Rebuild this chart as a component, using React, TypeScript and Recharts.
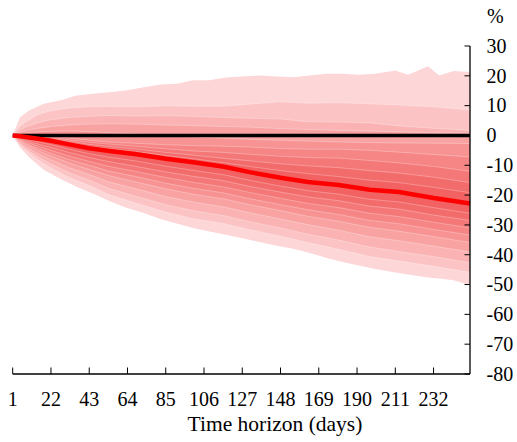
import { ComposedChart, Area, Line, XAxis, YAxis, ReferenceLine } from 'recharts';

const FONT = '"Liberation Serif", "Times New Roman", serif';

// sampled days along the horizon
const days = [1, 4, 8, 15, 22, 32, 43, 54, 68, 85, 100, 117, 131, 148, 163, 180, 197, 213, 232, 252];

// central path (%)
const median = [0, -0.2, -0.5, -1.1, -1.8, -3.0, -4.3, -5.2, -6.2, -7.8, -9.0, -10.5, -12.3, -14.2, -15.6, -16.6, -18.2, -19.0, -21.0, -22.8];

// upper band edges, u1 innermost .. u8
const u1 = [0, -0.1, -0.3, -0.8, -1.3, -2.4, -3.6, -4.4, -5.3, -6.7, -7.8, -9.2, -10.4, -11.8, -12.8, -13.8, -15.0, -15.8, -17.4, -19.2];
const u2 = [0, 0, -0.1, -0.5, -1.0, -2.0, -3.0, -3.7, -4.5, -5.7, -6.6, -7.7, -8.5, -9.5, -10.2, -10.8, -11.8, -12.6, -14.0, -15.8];
const u3 = [0, 0.1, 0.1, -0.2, -0.6, -1.5, -2.3, -2.9, -3.6, -4.5, -5.2, -5.7, -6.3, -7.0, -7.4, -7.6, -8.4, -9.2, -10.4, -12.0];
const u4 = [0, 0.2, 0.3, 0.1, -0.2, -0.9, -1.6, -2.2, -2.6, -3.1, -3.4, -3.6, -3.9, -4.4, -4.6, -4.6, -5.0, -5.6, -6.4, -7.2];
const u5 = [0, 0.6, 0.9, 1.2, 1.4, 1.5, 1.3, 0.9, 0.5, 0.0, -0.5, -0.9, -1.3, -1.6, -1.9, -2.2, -2.4, -2.5, -2.6, -2.7];
const u6 = [0, 1.0, 1.6, 2.4, 3.0, 3.5, 3.8, 3.9, 3.8, 3.5, 3.3, 3.0, 2.8, 2.3, 2.0, 1.7, 1.5, 1.2, 0.9, 0.7];
const u7 = [0, 1.5, 2.8, 4.3, 5.3, 6.0, 6.4, 6.7, 6.5, 6.6, 6.4, 6.0, 5.8, 5.5, 4.6, 4.5, 4.2, 3.2, 2.4, 1.7];
const u8 = [0, 2.5, 4.5, 7.0, 8.3, 9.2, 9.6, 9.7, 9.6, 9.9, 9.8, 9.8, 10.5, 11.3, 10.8, 11.0, 10.6, 10.2, 9.6, 8.5];

// lower band edges, l1 innermost .. l8
const l1 = [0, -0.6, -1.1, -2.1, -3.1, -4.6, -6.1, -7.3, -8.5, -10.3, -11.7, -13.2, -15.0, -17.0, -18.5, -19.7, -21.4, -22.3, -24.2, -26.1];
const l2 = [0, -0.8, -1.6, -2.9, -4.0, -5.7, -7.4, -8.8, -10.3, -12.2, -13.7, -15.2, -17.1, -19.0, -20.6, -21.9, -23.7, -24.7, -26.7, -28.5];
const l3 = [0, -1.1, -2.1, -3.6, -5.0, -6.9, -8.7, -10.4, -12.0, -14.1, -15.7, -17.3, -19.1, -21.1, -22.8, -24.2, -26.1, -27.2, -29.1, -31.0];
const l4 = [0, -1.4, -2.6, -4.4, -6.0, -8.1, -10.0, -12.0, -13.7, -16.0, -17.7, -19.3, -21.2, -23.2, -24.9, -26.5, -28.5, -29.6, -31.5, -33.4];
const l5 = [0, -1.6, -3.0, -5.1, -6.9, -9.2, -11.4, -13.5, -15.5, -17.9, -19.7, -21.3, -23.2, -25.2, -27.1, -28.8, -30.8, -32.1, -33.9, -35.9];
const l6 = [0, -2.0, -3.7, -6.1, -8.2, -10.8, -13.1, -15.6, -17.8, -20.5, -22.3, -24.0, -25.9, -28.0, -29.9, -31.8, -34.0, -35.3, -37.1, -39.1];
const l7 = [0, -2.4, -4.4, -7.2, -9.6, -12.5, -15.0, -17.8, -20.3, -23.2, -25.2, -26.9, -28.9, -31.0, -33.1, -35.1, -37.4, -38.9, -40.6, -42.7];
const l8 = [0, -2.8, -5.0, -8.2, -10.9, -14.1, -16.8, -19.9, -22.6, -25.7, -27.9, -29.6, -31.6, -33.8, -35.9, -38.2, -40.6, -42.1, -43.9, -45.9];

// outer envelope, read more densely
const edgeDays = [1, 5, 10, 18, 27, 36, 45, 54, 63, 73, 82, 91, 100, 109, 118, 127, 137, 146, 155, 164, 173, 182, 191, 200, 211, 218, 229, 235, 243, 252];
const topEdge = [0, 6.1, 8.4, 10.6, 11.7, 13.4, 14.0, 14.5, 15.1, 16.2, 17.1, 17.3, 18.5, 18.5, 19.4, 19.8, 20.1, 19.8, 19.5, 20.1, 20.7, 20.7, 20.4, 20.7, 21.8, 20.4, 23.2, 20.1, 21.6, 21.3];
const bottomEdge = [0, -4.0, -7.3, -11.5, -14.5, -17.2, -19.5, -22.0, -24.2, -26.0, -28.0, -29.5, -31.0, -32.2, -33.3, -34.5, -35.8, -37.0, -38.0, -39.4, -41.0, -42.4, -43.6, -44.8, -46.0, -46.6, -47.6, -48.0, -48.6, -50.2];

const upper = [u1, u2, u3, u4, u5, u6, u7, u8];
const lower = [l1, l2, l3, l4, l5, l6, l7, l8];

// innermost -> outermost
const bandColors = ['#f26262', '#f36c6c', '#f47878', '#f68585', '#f79393', '#f9a2a2', '#fab2b2', '#fcc3c4', '#fdd6d7'];

const xTicks = [1, 22, 43, 64, 85, 106, 127, 148, 169, 190, 211, 232];
const yTicks = [-80, -70, -60, -50, -40, -30, -20, -10, 0, 10, 20, 30];

const rows = days.map((day, i) => {
  const row: Record<string, number> = { day, med: median[i] };
  upper.forEach((u, k) => { row[`u${k + 1}`] = u[i]; });
  lower.forEach((l, k) => { row[`l${k + 1}`] = l[i]; });
  return row;
});

const edgeRows = edgeDays.map((day, i) => ({ day, lo: bottomEdge[i], hi: topEdge[i] }));

function XTick({ x, y, payload }: any) {
  return (
    <g>
      <line x1={x} x2={x} y1={y} y2={y - 6.5} stroke="#000" strokeWidth={1} />
      <text x={x} y={y + 32} textAnchor="middle" fontFamily={FONT} fontSize={20} fill="#000">
        {payload.value}
      </text>
    </g>
  );
}

function YTick({ x, y, payload }: any) {
  return (
    <g>
      <line x1={x - 5.5} x2={x} y1={y} y2={y} stroke="#000" strokeWidth={1} />
      <text x={x + 16.5} y={y} dy="0.34em" textAnchor="start" fontFamily={FONT} fontSize={20} fill="#000">
        {payload.value}
      </text>
    </g>
  );
}

export default function App() {
  const levels = [8, 7, 6, 5, 4, 3, 2, 1];
  const sep = { stroke: '#ffffff', strokeOpacity: 0.4, strokeWidth: 0.7 };
  return (
    <div style={{ position: 'absolute', left: 8, top: 8, width: 509, height: 426 }}>
      <style>{'.recharts-surface{overflow:visible}'}</style>
      <ComposedChart width={509} height={426} data={rows} margin={{ top: 38, right: 7, left: 4.7, bottom: 0 }}>
        <XAxis
          dataKey="day"
          type="number"
          domain={[1, 252]}
          ticks={xTicks}
          interval={0}
          tickSize={0}
          tickMargin={0}
          tickLine={false}
          tick={<XTick />}
          axisLine={{ stroke: '#000', strokeWidth: 1.3 }}
          height={60}
          label={{
            value: 'Time horizon (days)',
            content: () => (
              <text x={267} y={423} textAnchor="middle" fontFamily={FONT} fontSize={21.5} fill="#000">
                Time horizon (days)
              </text>
            ),
          }}
        />
        <YAxis
          orientation="right"
          type="number"
          domain={[-80, 30]}
          ticks={yTicks}
          interval={0}
          tickSize={0}
          tickMargin={0}
          tickLine={false}
          tick={<YTick />}
          axisLine={{ stroke: '#000', strokeWidth: 1.3 }}
          width={40}
          label={{
            value: '%',
            content: () => (
              <text x={479} y={14.5} textAnchor="start" fontFamily={FONT} fontSize={20} fill="#000">
                %
              </text>
            ),
          }}
        />
        <Area
          data={edgeRows}
          type="linear"
          dataKey={(r: { lo: number; hi: number }) => [r.lo, r.hi]}
          fill={bandColors[8]}
          fillOpacity={1}
          stroke="none"
          dot={false}
          activeDot={false}
          isAnimationActive={false}
        />
        {levels.map((k) => (
          <Area
            key={k}
            type="linear"
            dataKey={(r: Record<string, number>) => [r[`l${k}`], r[`u${k}`]]}
            fill={bandColors[k - 1]}
            fillOpacity={1}
            {...sep}
            dot={false}
            activeDot={false}
            isAnimationActive={false}
          />
        ))}
        <ReferenceLine y={0} stroke="#000" strokeWidth={3.5} />
        <Line
          type="linear"
          dataKey="med"
          stroke="#ff0000"
          strokeWidth={4.5}
          dot={false}
          activeDot={false}
          isAnimationActive={false}
        />
      </ComposedChart>
    </div>
  );
}
